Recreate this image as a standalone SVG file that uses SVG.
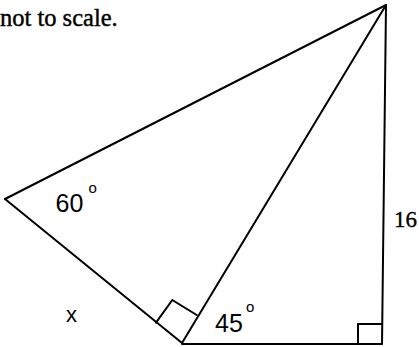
<svg xmlns="http://www.w3.org/2000/svg" width="419" height="347" viewBox="0 0 419 347">
<style>
.ln{fill:none;stroke:#000;stroke-width:2;stroke-linecap:round;stroke-linejoin:round}
.lab{font-family:"Liberation Sans",Arial,sans-serif;fill:#000}
.ser{font-family:"Liberation Serif","Times New Roman",serif;fill:#000;stroke:#000;stroke-width:0.4}
</style>
<rect width="419" height="347" fill="#fff"/>
<text class="ser" x="0" y="26" font-size="24.5">not to scale.</text>
<g id="connectors">
<line class="ln" x1="5" y1="199" x2="386" y2="5"/>
<line class="ln" x1="5" y1="199" x2="182" y2="343"/>
<line class="ln" x1="182" y1="343" x2="386" y2="5"/>
<line class="ln" x1="386" y1="5" x2="382" y2="344" stroke-width="3"/>
<line class="ln" x1="182" y1="344" x2="382" y2="344"/>
<polyline class="ln" points="156,322.7 172.3,300 196.7,315"/>
<polyline class="ln" points="358,344 358,324 382,324"/>
</g>
<g id="label-60">
<text class="lab" x="55.5" y="211.7" font-size="25">60</text>
<text class="lab" x="88.5" y="193" font-size="15">o</text>
</g>
<g id="label-45">
<text class="lab" x="215" y="331.7" font-size="25">45</text>
<text class="lab" x="246" y="312" font-size="15">o</text>
</g>
<g id="label-x">
<text class="lab" x="66" y="321.7" font-size="22">x</text>
</g>
<g id="label-16">
<text class="ser" x="394" y="226.5" font-size="23">16</text>
</g>
</svg>
